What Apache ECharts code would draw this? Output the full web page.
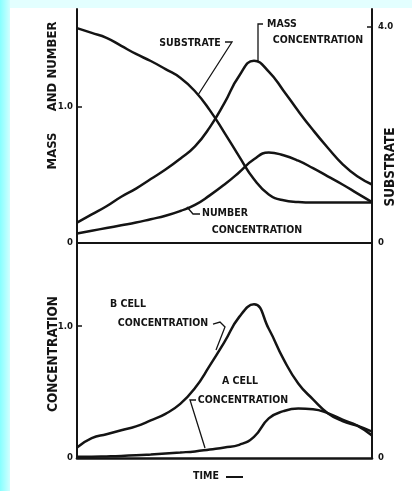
<!DOCTYPE html>
<html><head><meta charset="utf-8">
<script src="https://cdn.jsdelivr.net/npm/echarts@6/dist/echarts.min.js"></script>
<style>
html,body{margin:0;padding:0;}
#wrap{position:relative;width:412px;height:491px;
background:
 linear-gradient(#fff,#fff) 10px 8px / 402px 483px no-repeat,
 linear-gradient(to right,#86FFFF,#D2FFFF) 0 0 / 10px 491px no-repeat,
 #E3FFFF;}
#c{position:absolute;left:0;top:0;width:412px;height:491px;}
</style>
</head><body><div id="wrap"><div id="c"></div></div>
<script>
// ---- data (time in % of plotted span) ----
const time          = [0, 5, 10, 15, 20, 25, 30, 35, 40, 45, 50, 55, 60, 65, 70, 75, 80, 85, 90, 95, 100];
const massConc      = [0.15, 0.21, 0.27, 0.34, 0.40, 0.47, 0.54, 0.62, 0.71, 0.85, 1.03, 1.23, 1.34, 1.26, 1.12, 0.97, 0.83, 0.70, 0.58, 0.49, 0.43];
const numberConc    = [0.07, 0.09, 0.11, 0.13, 0.15, 0.175, 0.20, 0.235, 0.28, 0.35, 0.43, 0.52, 0.615, 0.665, 0.645, 0.605, 0.55, 0.49, 0.43, 0.365, 0.30];
const substrateConc = [3.98, 3.89, 3.80, 3.65, 3.50, 3.37, 3.22, 3.06, 2.81, 2.46, 2.04, 1.60, 1.18, 0.90, 0.79, 0.76, 0.75, 0.75, 0.75, 0.75, 0.75];
const bCellConc     = [0.08, 0.15, 0.18, 0.21, 0.24, 0.285, 0.335, 0.41, 0.53, 0.70, 0.88, 1.07, 1.165, 0.98, 0.75, 0.565, 0.445, 0.34, 0.28, 0.245, 0.20];
const aCellConc     = [0.01, 0.01, 0.012, 0.015, 0.02, 0.027, 0.035, 0.042, 0.05, 0.065, 0.08, 0.10, 0.16, 0.30, 0.355, 0.375, 0.37, 0.34, 0.29, 0.245, 0.17];
const leftTicks     = [0, 1];
const substrateTicks= [0, 4];

const pairs = (xs, ys) => xs.map((x, i) => [x, ys[i]]);
const INK = '#141414';
const F = '"DejaVu Sans Condensed","DejaVu Sans",sans-serif';
const fmt = v => v === 0 ? '0' : v.toFixed(1);
const lbl = (extra) => Object.assign({fontFamily:F, fontWeight:'bold', fontSize:9.5, color:INK, formatter:fmt}, extra);

function yAx(grid, pos, max, labels, ticks, extraLbl) {
  return {
    gridIndex: grid, type: 'value', position: pos, min: 0, max: max,
    axisLine: {show: true, lineStyle: {color: INK, width: 2}},
    axisTick: ticks.length ? {show: true, inside: true, length: 5, customValues: ticks, lineStyle: {color: INK, width: 1.5}} : {show: false},
    axisLabel: lbl(Object.assign({customValues: labels, margin: 4}, extraLbl || {})),
    splitLine: {show: false}
  };
}
function xAx(grid, w) {
  return {gridIndex: grid, type: 'value', min: 0, max: 100,
    axisLine: {show: true, onZero: false, lineStyle: {color: INK, width: w}},
    axisTick: {show: false}, axisLabel: {show: false}, splitLine: {show: false}};
}
function line(name, xi, yi, data) {
  return {name, type: 'line', xAxisIndex: xi, yAxisIndex: yi, data, smooth: 0.5,
    showSymbol: false, symbol: 'none', lineStyle: {color: INK, width: 2.5}, z: 3};
}

const txt = (t, x, y, align, size, rot) => ({
  type: 'text', x, y, rotation: rot || 0, z: 50,
  style: {text: t, fill: INK, fontFamily: F, fontWeight: 'bold', fontSize: size || 10.5,
    align: align || 'center', verticalAlign: 'middle'}
});
const lead = (pts) => ({type: 'polyline', z: 50, shape: {points: pts},
  style: {stroke: INK, lineWidth: 1.3, fill: null}});

const chart = echarts.init(document.getElementById('c'));
chart.setOption({
  animation: false,
  backgroundColor: 'transparent',
  grid: [
    {left: 77, right: 40, top: 9, height: 234},
    {left: 77, right: 40, top: 243, height: 215}
  ],
  xAxis: [xAx(0, 2), xAx(1, 2.6)],
  yAxis: [
    yAx(0, 'left', 1.72, leftTicks, [1]),
    yAx(0, 'right', 4.333, substrateTicks, [4], {margin: 6}),
    yAx(1, 'left', 1.63, leftTicks, [1]),
    yAx(1, 'right', 1.63, [0], [], {margin: 6})
  ],
  series: [
    line('Substrate', 0, 1, pairs(time, substrateConc)),
    line('Mass concentration', 0, 0, pairs(time, massConc)),
    line('Number concentration', 0, 0, pairs(time, numberConc)),
    line('B cell concentration', 1, 2, pairs(time, bCellConc)),
    line('A cell concentration', 1, 2, pairs(time, aCellConc))
  ],
  graphic: [
    txt('SUBSTRATE', 190, 43),
    lead([[225, 42], [232, 42], [198, 95]]),
    txt('MASS', 267, 24, 'left'),
    txt('CONCENTRATION', 318, 40),
    lead([[263, 24], [258, 24], [258, 62]]),
    txt('NUMBER', 202, 213, 'left'),
    txt('CONCENTRATION', 257, 230),
    lead([[200, 214], [193, 214], [187, 207]]),
    txt('B CELL', 110, 304, 'left'),
    txt('CONCENTRATION', 163, 323),
    lead([[213, 324], [220, 322], [225, 327], [216, 350]]),
    txt('A CELL', 240, 381),
    txt('CONCENTRATION', 243, 400),
    lead([[196, 400], [190, 400], [205, 448]]),
    txt('TIME', 206, 476),
    {type: 'line', z: 50, shape: {x1: 226, y1: 477, x2: 243, y2: 477}, style: {stroke: INK, lineWidth: 2}},
    txt('NUMBER', 53, 50, 'center', 13, Math.PI / 2),
    txt('AND', 53, 97, 'center', 13, Math.PI / 2),
    txt('MASS', 53, 151, 'center', 13, Math.PI / 2),
    txt('CONCENTRATION', 53, 354, 'center', 13.5, Math.PI / 2),
    txt('SUBSTRATE', 390, 167, 'center', 13.5, Math.PI / 2)
  ]
});
</script>
</body></html>
